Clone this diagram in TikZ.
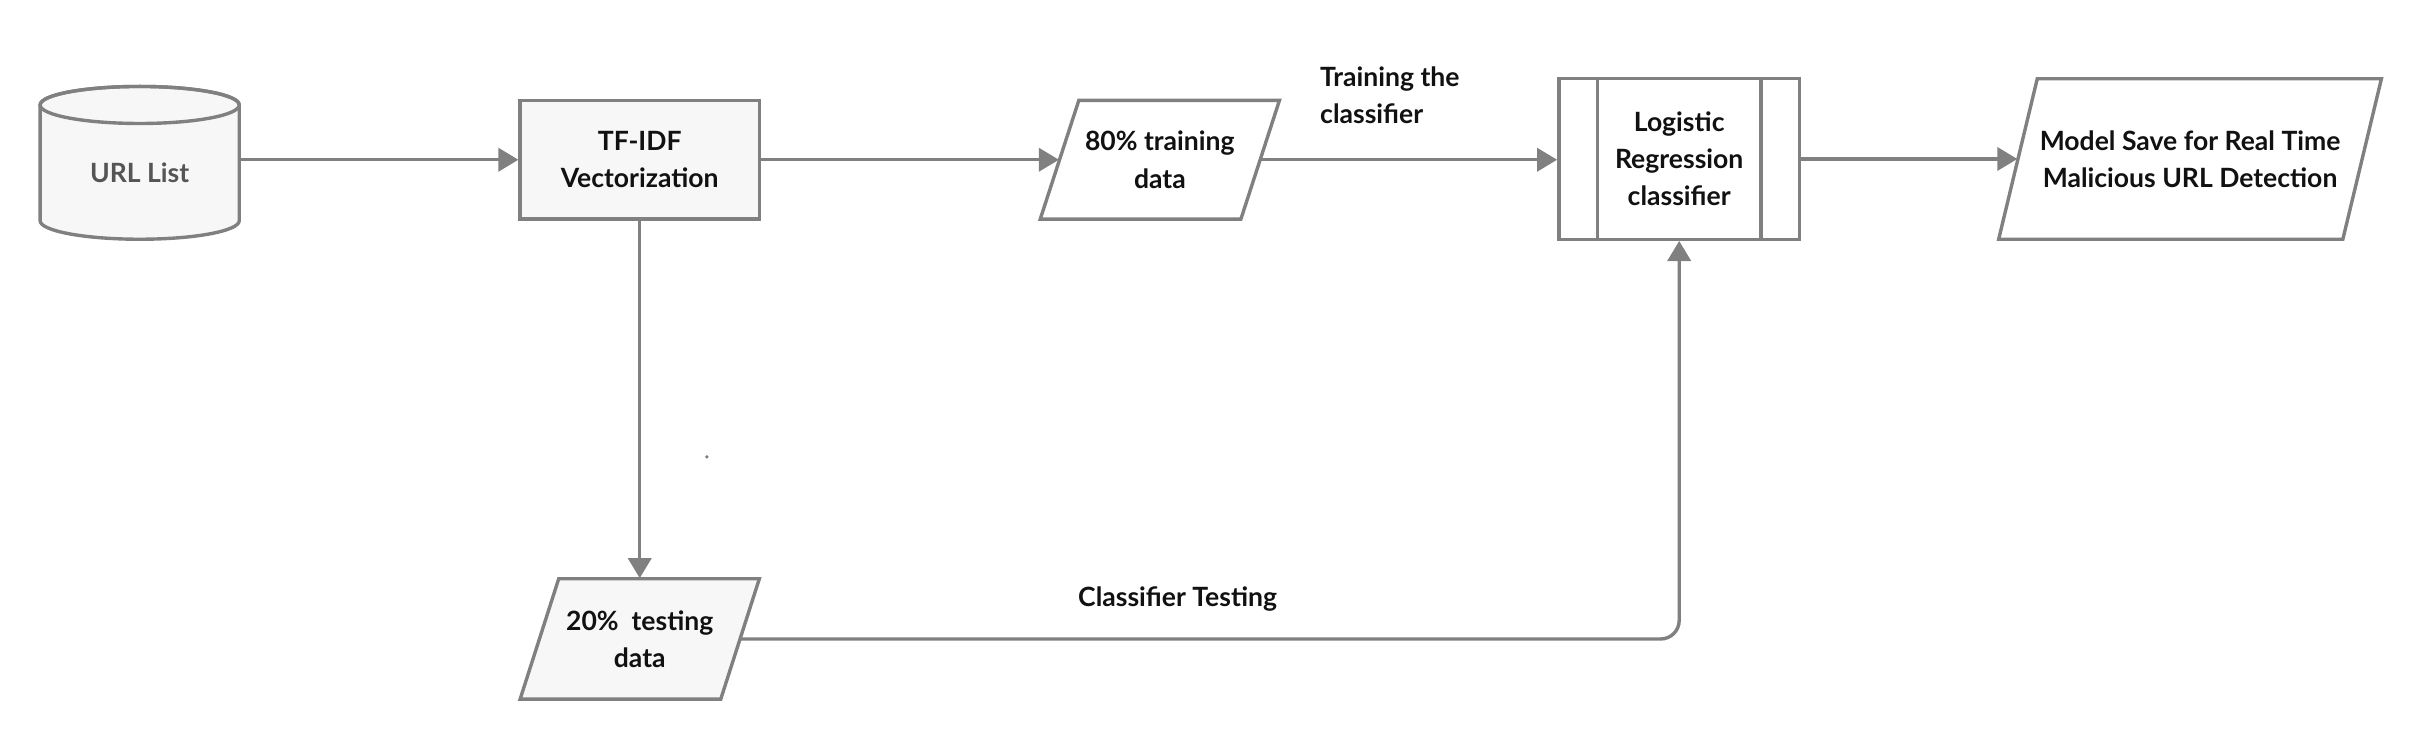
\documentclass[tikz,border=0pt]{standalone}
\usepackage{fontspec}
\setmainfont{Lato}
\usetikzlibrary{arrows.meta}
\definecolor{lgray}{HTML}{808080}
\definecolor{boxfill}{HTML}{F7F7F7}
\definecolor{txt}{HTML}{111111}
\definecolor{urltxt}{HTML}{555555}
\begin{document}
\begin{tikzpicture}[x=0.5pt,y=-0.5pt,
  every node/.style={font=\fontsize{8.6}{12}\selectfont\bfseries, text=txt, align=center, inner sep=0pt},
  shapeline/.style={draw=lgray, line width=1.1pt},
  boxstyle/.style={shapeline, rectangle},
  arr/.style={draw=lgray, line width=1.1pt, -{Triangle[length=6.5pt,width=7.5pt]}},
  lbl/.style={font=\fontsize{8.6}{12}\selectfont\bfseries}
]
\useasboundingbox (0,0) rectangle (1568,479);
% cylinder
\node[minimum width=64.5pt, minimum height=49.5pt] (url) at (90.5,105.5) {};
\filldraw[shapeline, fill=boxfill] (26,68) -- (26,143)
  arc[start angle=180, end angle=360, x radius=32.25pt, y radius=6pt]
  -- (155,68)
  arc[start angle=0, end angle=180, x radius=32.25pt, y radius=6pt] -- cycle;
\draw[shapeline] (90.5,68) ellipse[x radius=32.25pt, y radius=6pt];
\node[text=urltxt] (urllabel) at (90.5,112) {URL List};
% TF-IDF
\node[boxstyle, fill=boxfill, minimum width=77.5pt, minimum height=38.5pt] (tfidf) at (414.5,103.5) {TF-IDF\\Vectorization};
% 80% training (parallelogram)
\filldraw[shapeline, fill=white] (674,142) -- (699,65) -- (829,65) -- (804,142) -- cycle;
\node[minimum width=77.5pt, minimum height=38.5pt] (train) at (751.5,103.5) {80\% training\\data};
% Logistic regression
\node[boxstyle, fill=white, minimum width=78pt, minimum height=52pt] (lr) at (1088,103) {Logistic\\Regression\\classifier};
\draw[shapeline] ([xshift=13pt]lr.north west) -- ([xshift=13pt]lr.south west);
\draw[shapeline] ([xshift=-13pt]lr.north east) -- ([xshift=-13pt]lr.south east);
% Model save (parallelogram)
\filldraw[shapeline, fill=white] (1295,155) -- (1320,51) -- (1543,51) -- (1518,155) -- cycle;
\node[minimum width=124pt, minimum height=52pt] (save) at (1419,103) {Model Save for Real Time\\Malicious URL Detection};
% 20% testing (parallelogram)
\filldraw[shapeline, fill=boxfill] (337,453) -- (362,375) -- (492,375) -- (467,453) -- cycle;
\node[minimum width=77.5pt, minimum height=39pt] (test) at (414.5,414) {20\%\ \ testing\\data};
% connectors
\draw[arr] (tfidf.west -| url.east) -- (tfidf.west);
\draw[arr] (tfidf.east) -- ([xshift=6.25pt]train.west);
\draw[arr] ([xshift=-6.25pt]train.east) -- (lr.west |- train.east);
\draw[arr] (lr.east) -- ([xshift=6.25pt]save.west);
\draw[arr] (tfidf.south) -- (test.north -| tfidf.south);
\draw[arr, rounded corners=6pt] ([xshift=-6.25pt]test.east) -| (lr.south);
% labels
\node[lbl, align=left, anchor=west] (trainlbl) at (855,62) {Training the\\classifier};
\node[lbl] (testlbl) at (763,388) {Classifier Testing};
% stray dot
\fill[lgray] (458,296) circle[radius=0.6pt];
\end{tikzpicture}
\end{document}
